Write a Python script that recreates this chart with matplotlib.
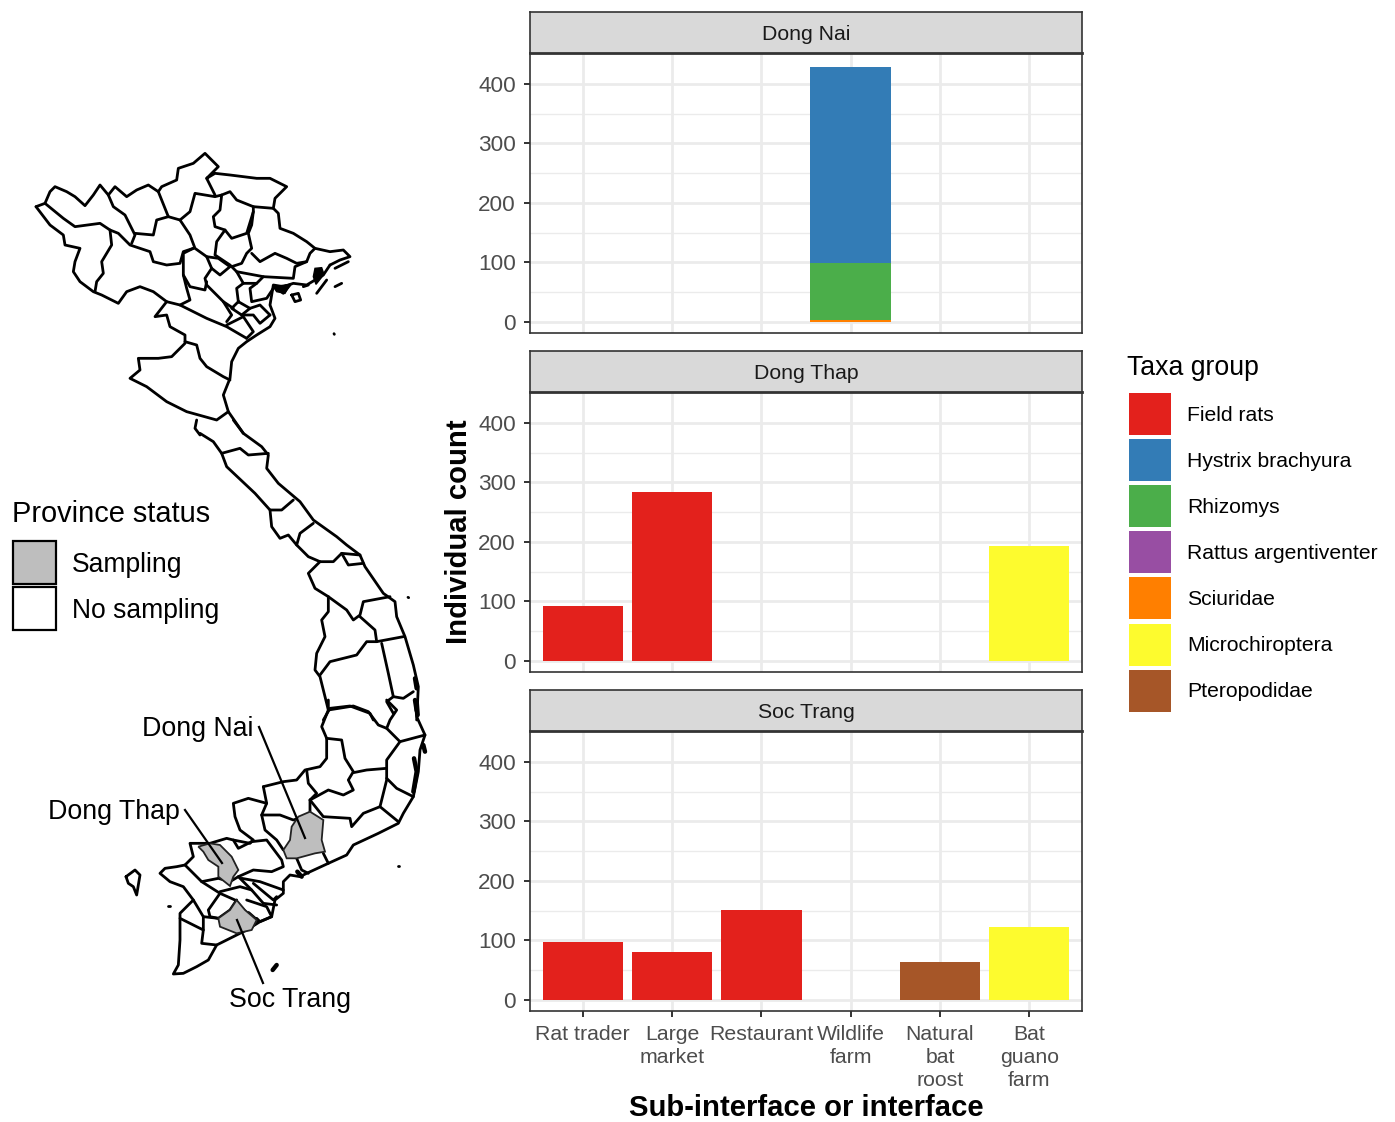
import matplotlib
matplotlib.use("Agg")
import matplotlib.pyplot as plt
from matplotlib.patches import Rectangle, Polygon

plt.rcParams['font.family'] = ['Liberation Sans', 'DejaVu Sans']

W, H = 1395, 1122
# ---------- data ----------
CATEGORIES = ["Rat trader", "Large\nmarket", "Restaurant", "Wildlife\nfarm", "Natural\nbat\nroost", "Bat\nguano\nfarm"]
TAXA = ["Field rats", "Hystrix brachyura", "Rhizomys", "Rattus argentiventer", "Sciuridae", "Microchiroptera", "Pteropodidae"]
TAXA_COLORS = ["#e3211c", "#337cb6", "#4bae4a", "#984ea3", "#ff7f00", "#fdfb2e", "#a65628"]
PROVINCES = ["Dong Nai", "Dong Thap", "Soc Trang"]
# (category index, taxon, count), stacked bottom-up per category
DONG_NAI = [(3, "Sciuridae", 3), (3, "Rhizomys", 96), (3, "Hystrix brachyura", 330)]
DONG_THAP = [(0, "Field rats", 92), (1, "Field rats", 284), (5, "Microchiroptera", 193)]
SOC_TRANG = [(0, "Field rats", 98), (1, "Field rats", 81), (2, "Field rats", 152),
             (4, "Pteropodidae", 63), (5, "Microchiroptera", 122)]
COUNTS = [DONG_NAI, DONG_THAP, SOC_TRANG]
Y_TICKS = [0, 100, 200, 300, 400]
Y_MINOR = [50, 150, 250, 350]
STATUS_LABELS = ["Sampling", "No sampling"]
STATUS_COLORS = ["#bebebe", "#ffffff"]

# ---------- map geometry (group: origin x, origin y, lines at 3x) ----------
NORTH = [
 [(18,185),(45,175),(60,140),(75,125),(110,140),(135,155),(165,182),(190,150),(210,120),(235,150),(255,125),(290,155),(320,135),(355,120),(385,140),(395,125),(440,105),(445,70),(490,55),(525,25),(565,65),(530,100),(555,85),(600,90),(640,95),(680,100),(720,100),(770,125),(735,160),(730,190),(745,205),(750,250),(790,265),(830,290),(855,310),(900,320),(940,315),(960,335),(930,345),(900,360)],
 [(900,360),(880,390),(830,420),(790,415),(760,425),(730,420),(720,480),(735,520),(720,545),(680,570),(650,590),(625,610),(605,650),(600,700),(580,750),(595,800),(640,865)],
 [(18,185),(60,240),(100,270),(105,300),(150,310),(135,350),(130,380),(150,410),(190,440),(215,450),(265,475),(290,440),(330,425),(370,440),(410,470),(375,515),(410,510),(420,545),(465,570),(465,595),(425,635),(385,640),(325,640),(330,675),(300,700),(350,725),(410,770),(470,800),(560,825),(595,800)],
 [(45,175),(100,220),(135,245),(210,235),(240,255),(245,300),(215,350),(220,385),(200,410),(195,440)],
 [(240,255),(265,265),(300,300),(360,320),(370,350),(410,360),(450,355),(460,320),(490,310)],
 [(235,150),(250,185),(285,210),(315,270),(305,295)],
 [(315,265),(370,270),(380,225),(415,215),(385,140)],
 [(415,215),(450,225),(480,270),(495,310),(530,335),(545,370),(525,400),(530,420),(580,470),(610,490)],
 [(450,225),(480,200),(495,145),(555,155),(575,150),(570,195),(550,215),(555,245),(585,255),(605,280),(650,265),(670,200),(670,185)],
 [(530,100),(555,150)],
 [(575,150),(600,140),(620,165),(670,185),(730,190)],
 [(670,200),(665,240),(655,265),(665,310),(650,325),(635,355),(605,365)],
 [(585,255),(560,290),(555,330),(600,360),(620,380),(700,395),(790,400),(795,365),(830,350),(840,325),(855,310)],
 [(665,325),(690,350),(735,325),(770,340),(800,355),(830,350)],
 [(530,335),(565,340),(600,365),(570,390),(545,370)],
 [(490,310),(460,325),(460,390),(480,425),(525,435),(530,410)],
 [(460,390),(470,430),(480,465),(450,480),(410,470)],
 [(450,480),(530,520),(590,545),(650,580)],
 [(580,470),(605,510),(590,530)],
 [(620,380),(640,415),(680,415),(700,395)],
 [(640,415),(620,430),(625,470),(605,490),(635,510),(660,490),(625,470)],
 [(680,415),(660,430),(665,470),(710,460),(730,430)],
 [(660,490),(690,480),(720,510)],
 [(635,510),(670,510),(690,535),(720,510)],
 [(590,540),(640,515),(670,560),(650,580)],
 [(465,590),(500,600),(510,640),(530,665),(580,695),(600,705)],
 [(500,825),(495,850),(510,870)],
 [(915,370),(955,350)],
 [(860,445),(890,405)],
 [(915,425),(935,415)],
 [(785,450),(805,445),(812,465),(795,470),(785,450)],
 [(740,430),(780,420),(760,445),(740,430)],
 [(820,425),(835,420)],
 [(912,566),(913,568)],
]
NORTH_BLOBS = [[(855,370),(875,368),(882,388),(858,418),(850,395)], [(730,425),(780,418),(765,445),(740,440)]]
CENTRE = [
 [(100,0),(130,40),(185,80),(205,105),(200,145),(235,190),(300,245),(340,300),(410,350),(440,375),(480,405),(495,440),(550,520),(585,545),(590,590),(615,650),(640,735),(655,800),(650,900)],
 [(0,40),(40,65),(65,100),(80,140),(165,220),(210,270),(215,320),(240,355),(265,345),(290,375),(325,410),(360,425),(325,460),(345,505),(385,530),(385,575),(365,600),(375,650),(350,700),(345,750),(360,770),(385,870)],
 [(65,100),(120,85),(145,105),(205,100)],
 [(210,270),(245,270),(280,240)],
 [(340,310),(300,340),(290,375)],
 [(360,425),(400,425),(425,400),(480,405)],
 [(425,400),(445,435),(490,430)],
 [(385,530),(440,570),(460,600),(480,585),(490,545),(570,530)],
 [(480,590),(525,630),(530,665),(610,650)],
 [(530,665),(500,665),(470,705),(390,725),(360,765)],
 [(545,670),(565,760),(580,830),(610,835),(640,815)],
 [(580,830),(560,845),(580,880)],
 [(370,900),(390,865),(450,858),(510,880),(520,900)],
 [(624,532),(626,533)],
]
CENTRE_THICK = [[(645,775),(650,805)], [(650,845),(653,885)]]
SOUTH = [
 [(625,0),(625,30),(605,80),(620,115),(665,120),(675,175),(700,215),(685,240),(700,270),(670,285),(625,270),(570,300)],
 [(625,30),(700,18),(745,35),(775,75),(800,85),(840,125),(915,105)],
 [(800,0),(830,30),(810,60),(800,85)],
 [(885,0),(890,50),(915,105),(900,150),(895,215),(880,290),(850,340),(835,370),(775,400),(700,435),(680,465),(625,490),(560,520),(540,530),(510,525),(490,545),(490,580),(465,600),(455,650),(420,665),(380,690),(290,735),(265,780),(230,800),(190,820),(160,822),(175,795),(180,720),(180,640),(220,600),(190,560),(150,545),(120,520),(135,505),(170,500),(195,495)],
 [(840,125),(800,180),(800,240),(780,320),(835,365)],
 [(880,290),(830,265),(800,235)],
 [(800,205),(740,210),(700,218)],
 [(570,300),(610,350),(690,355),(695,380),(730,340),(780,320)],
 [(430,260),(490,245),(530,240),(555,210),(600,200),(620,175),(620,115)],
 [(560,210),(565,250),(590,280),(570,300),(570,335)],
 [(430,260),(440,310),(425,345),(435,390),(470,420),(490,450)],
 [(440,310),(385,295),(340,310),(345,350),(360,390),(400,420),(390,430),(340,420)],
 [(425,345),(480,345),(520,360),(535,355)],
 [(530,475),(545,510),(565,520)],
 [(610,460),(625,490)],
 [(395,425),(440,420),(485,480),(490,500),(455,515),(400,510),(355,530),(330,545),(295,535),(245,545),(195,495),(220,470),(210,430),(270,430),(320,415),(340,420),(355,445),(395,425)],
 [(245,545),(300,580),(345,600),(400,660)],
 [(355,530),(395,570),(430,610),(470,615)],
 [(365,535),(420,545),(490,570)],
 [(400,550),(460,600),(470,590)],
 [(300,575),(360,560),(395,570)],
 [(300,580),(265,630),(270,650),(295,655),(330,630),(350,600)],
 [(380,600),(440,620),(455,650),(420,665),(410,655)],
 [(220,600),(250,650),(250,690),(180,655)],
 [(250,650),(295,655)],
 [(250,690),(245,730),(290,735)],
 [(18,530),(45,510),(60,525),(50,585),(40,560),(25,550),(18,530)],
 [(145,618),(150,618)],
 [(834,498),(838,498)],
]
SOUTH_THICK = [[(885,0),(890,32)], [(882,175),(890,215),(880,275)], [(910,135),(915,155)], [(458,810),(470,795)], [(532,515),(545,530)], [(385,640),(410,662)]]
SAMPLED = {
 "Dong Nai": [(535,350),(570,335),(610,360),(605,420),(615,455),(585,460),(530,475),(500,475),(490,450),(510,420),(515,380)],
 "Dong Thap": [(235,440),(270,430),(300,435),(335,470),(355,510),(340,530),(330,558),(295,530),(295,500),(265,480),(250,455)],
 "Soc Trang": [(350,600),(375,630),(410,660),(395,690),(350,700),(300,680),(295,655),(330,630)],
}
LEADERS = {
 "Dong Nai": [(142,729), (259,727), (305,838)],
 "Dong Thap": [(48,812), (185,810), (222,863)],
 "Soc Trang": [(229,1000), (263,983), (237,920)],
}

fig = plt.figure(figsize=(W/100, H/100), dpi=100, facecolor="white")
bg = fig.add_axes([0, 0, 1, 1], zorder=0)
bg.set_xlim(0, W); bg.set_ylim(H, 0); bg.axis("off")

def to_px(pts, ox, oy):
    return [(ox + x/3, oy + y/3) for x, y in pts]

for name, pts in SAMPLED.items():
    bg.add_patch(Polygon(to_px(pts, 120, 700), closed=True, fc="#bebebe", ec="#222222", lw=1.3, zorder=3))
for group, ox, oy, lw in [(NORTH, 30, 145, 2.0), (CENTRE, 200, 420, 2.0), (SOUTH, 120, 700, 2.0),
                          (CENTRE_THICK, 200, 420, 3.2), (SOUTH_THICK, 120, 700, 3.2)]:
    for line in group:
        p = to_px(line, ox, oy)
        bg.plot([a for a, _ in p], [b for _, b in p], color="black", lw=lw, solid_joinstyle="round",
                solid_capstyle="round", zorder=2)
for blob in NORTH_BLOBS:
    bg.add_patch(Polygon(to_px(blob, 30, 145), closed=True, fc="black", ec="black", lw=1, zorder=2))
for name, (lab, a, b) in LEADERS.items():
    bg.text(lab[0], lab[1], name, fontsize=19.3, color="black", ha="left", va="center")
    bg.plot([a[0], b[0]], [a[1], b[1]], color="black", lw=1.6, zorder=4)

# province legend
bg.text(12, 514, "Province status", fontsize=20.9, ha="left", va="center", color="black")
for i, (lab, c) in enumerate(zip(STATUS_LABELS, STATUS_COLORS)):
    y = 541 + i*46
    bg.add_patch(Rectangle((12.5, y), 43, 43, fc=c, ec="black", lw=1.6))
    bg.text(72, y + 24, lab, fontsize=19.1, ha="left", va="center", color="black")

# panels
PANEL_TOPS = [53, 392, 731]
PANEL_H, PANEL_L, PANEL_R, STRIP_H = 280, 530, 1082, 41.5
GREY20, GREY30, GRID = "#333333", "#4d4d4d", "#ebebeb"
for k, (prov, rows, top) in enumerate(zip(PROVINCES, COUNTS, PANEL_TOPS)):
    ax = fig.add_axes([PANEL_L/W, 1-(top+PANEL_H)/H, (PANEL_R-PANEL_L)/W, PANEL_H/H], zorder=2)
    ax.set_xlim(-0.59, 5.59)
    ax.set_ylim(-18.5, 452)
    ax.set_axisbelow(True)
    ax.set_yticks(Y_TICKS)
    ax.set_yticks(Y_MINOR, minor=True)
    ax.set_xticks(range(len(CATEGORIES)))
    ax.grid(True, which="major", color=GRID, lw=2.0)
    ax.grid(True, which="minor", axis="y", color=GRID, lw=1.0)
    ax.tick_params(axis="y", which="minor", length=0)
    ax.tick_params(axis="y", which="major", length=4.5, width=1.4, color=GREY20, labelcolor=GREY30, labelsize=16.2, pad=5.5)
    if k == 2:
        ax.set_xticklabels(CATEGORIES, fontsize=15.3, color=GREY30, linespacing=1.27)
        ax.tick_params(axis="x", length=4.5, width=1.4, color=GREY20, pad=5.5)
    else:
        ax.tick_params(axis="x", length=0, labelbottom=False)
    stack = {}
    for cat, taxon, n in rows:
        base = stack.get(cat, 0)
        ax.bar(cat, n, bottom=base, width=0.9, color=TAXA_COLORS[TAXA.index(taxon)], lw=0)
        stack[cat] = base + n
    for s in ax.spines.values():
        s.set_color(GREY20); s.set_linewidth(1.2)
    st = fig.add_axes([PANEL_L/W, 1-top/H, (PANEL_R-PANEL_L)/W, STRIP_H/H], zorder=3)
    st.set_facecolor("#d9d9d9"); st.set_xticks([]); st.set_yticks([])
    for s in st.spines.values():
        s.set_color(GREY20); s.set_linewidth(1.2)
    st.spines["bottom"].set_linewidth(2.0)
    st.text(0.5, 0.45, prov, transform=st.transAxes, ha="center", va="center", fontsize=15.3, color="#1a1a1a")

bg.text(459, 532, "Individual count", rotation=90, fontsize=21.1, fontweight="bold", ha="center", va="center", color="black")
bg.text(806, 1108, "Sub-interface or interface", fontsize=21.1, fontweight="bold", ha="center", va="center", color="black")

# taxa legend
bg.text(1127, 368, "Taxa group", fontsize=19.2, ha="left", va="center", color="black")
for i, (t, c) in enumerate(zip(TAXA, TAXA_COLORS)):
    y = 392 + i*46.1
    bg.add_patch(Rectangle((1129, y+1), 42, 42, fc=c, ec="none"))
    bg.text(1187, y + 23, t, fontsize=15.2, ha="left", va="center", color="black")

fig.savefig("out.png", dpi=100)
